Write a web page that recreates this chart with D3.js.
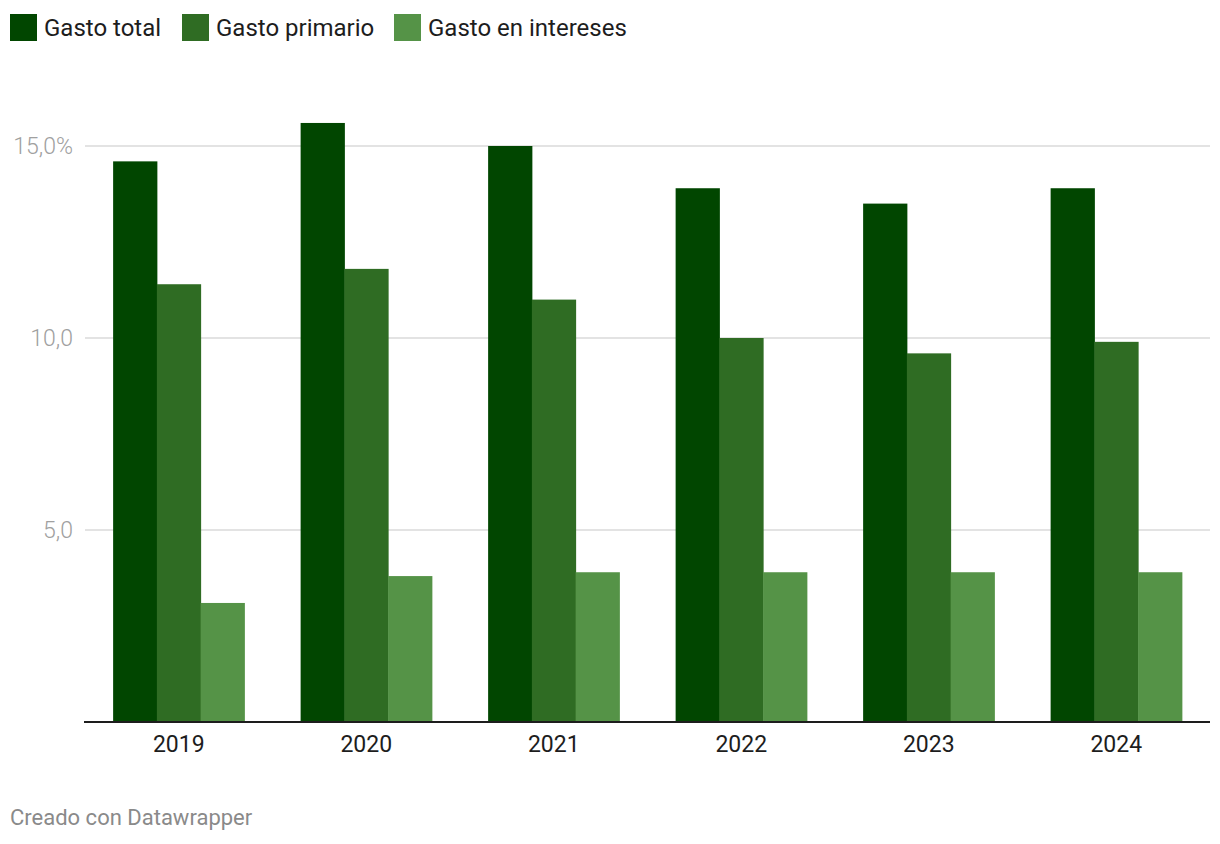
<!DOCTYPE html>
<html>
<head>
<meta charset="utf-8">
<script src="https://cdn.jsdelivr.net/npm/d3@7"></script>
<style>
  body { margin: 0; background: #fff; font-family: Roboto, "Noto Sans", sans-serif; }
  svg text { font-family: Roboto, "Noto Sans", sans-serif; }
</style>
</head>
<body>
<div id="chart"></div>
<script>
// data
var years = ["2019", "2020", "2021", "2022", "2023", "2024"];
var seriesNames = ["Gasto total", "Gasto primario", "Gasto en intereses"];
var gastoTotal = [14.6, 15.6, 15.0, 13.9, 13.5, 13.9];
var gastoPrimario = [11.4, 11.8, 11.0, 10.0, 9.6, 9.9];
var gastoIntereses = [3.1, 3.8, 3.9, 3.9, 3.9, 3.9];
var yTicks = [5, 10, 15];
var colors = ["#014600", "#2f6c23", "#559347"];

var W = 1220, H = 844;
var margin = { left: 85, right: 10, top: 0 };
var baseY = 722;

var svg = d3.select("#chart").append("svg")
    .attr("width", W).attr("height", H);

// legend
var legendX = [10, 182, 394];
var legend = svg.append("g").selectAll("g")
    .data(seriesNames)
    .enter().append("g")
    .attr("transform", function (d, i) { return "translate(" + legendX[i] + ",14)"; });
legend.append("rect")
    .attr("width", 27).attr("height", 27)
    .attr("fill", function (d, i) { return colors[i]; });
legend.append("text")
    .attr("x", 34).attr("y", 22)
    .attr("font-size", 24).attr("fill", "#1d1d1d")
    .text(function (d) { return d; });

var x = d3.scaleBand()
    .domain(years)
    .range([margin.left, W - margin.right])
    .paddingInner(0.3)
    .paddingOuter(0.15);

var y = d3.scaleLinear()
    .domain([0, 15])
    .range([baseY, baseY - 15 * 38.4]);

var xSub = d3.scaleBand()
    .domain(seriesNames)
    .range([0, x.bandwidth()]);

// gridlines
svg.append("g").selectAll("line")
    .data(yTicks)
    .enter().append("line")
    .attr("x1", margin.left).attr("x2", W - margin.right)
    .attr("y1", function (d) { return y(d); })
    .attr("y2", function (d) { return y(d); })
    .attr("stroke", "#e3e3e3").attr("stroke-width", 2);

svg.append("g").selectAll("text")
    .data(yTicks)
    .enter().append("text")
    .attr("x", 73)
    .attr("y", function (d) { return y(d) + 7.5; })
    .attr("text-anchor", "end")
    .attr("font-size", 23).attr("font-weight", 300).attr("fill", "#a0a0a0")
    .text(function (d) { return d.toFixed(1).replace(".", ",") + (d === 15 ? "%" : ""); });

// bars
var rows = years.map(function (yr, i) {
  return { year: yr, vals: [gastoTotal[i], gastoPrimario[i], gastoIntereses[i]] };
});

var groups = svg.append("g").selectAll("g")
    .data(rows)
    .enter().append("g")
    .attr("transform", function (d) { return "translate(" + x(d.year) + ",0)"; });

groups.selectAll("rect")
    .data(function (d) { return d.vals.map(function (v, j) { return { name: seriesNames[j], v: v, j: j }; }); })
    .enter().append("rect")
    .attr("x", function (d) { return xSub(d.name); })
    .attr("width", xSub.bandwidth() + 0.5)
    .attr("y", function (d) { return y(d.v); })
    .attr("height", function (d) { return baseY - y(d.v); })
    .attr("fill", function (d) { return colors[d.j]; });

// baseline
svg.append("line")
    .attr("x1", 84).attr("x2", W - margin.right)
    .attr("y1", baseY).attr("y2", baseY)
    .attr("stroke", "#1d1d1d").attr("stroke-width", 2);

// x labels
svg.append("g").selectAll("text")
    .data(years)
    .enter().append("text")
    .attr("x", function (d) { return x(d) + x.bandwidth() / 2; })
    .attr("y", 752)
    .attr("text-anchor", "middle")
    .attr("font-size", 23).attr("fill", "#1d1d1d")
    .text(function (d) { return d; });

svg.append("text")
    .attr("x", 10).attr("y", 825)
    .attr("font-size", 22).attr("fill", "#8a8a8a")
    .text("Creado con Datawrapper");
</script>
</body>
</html>
